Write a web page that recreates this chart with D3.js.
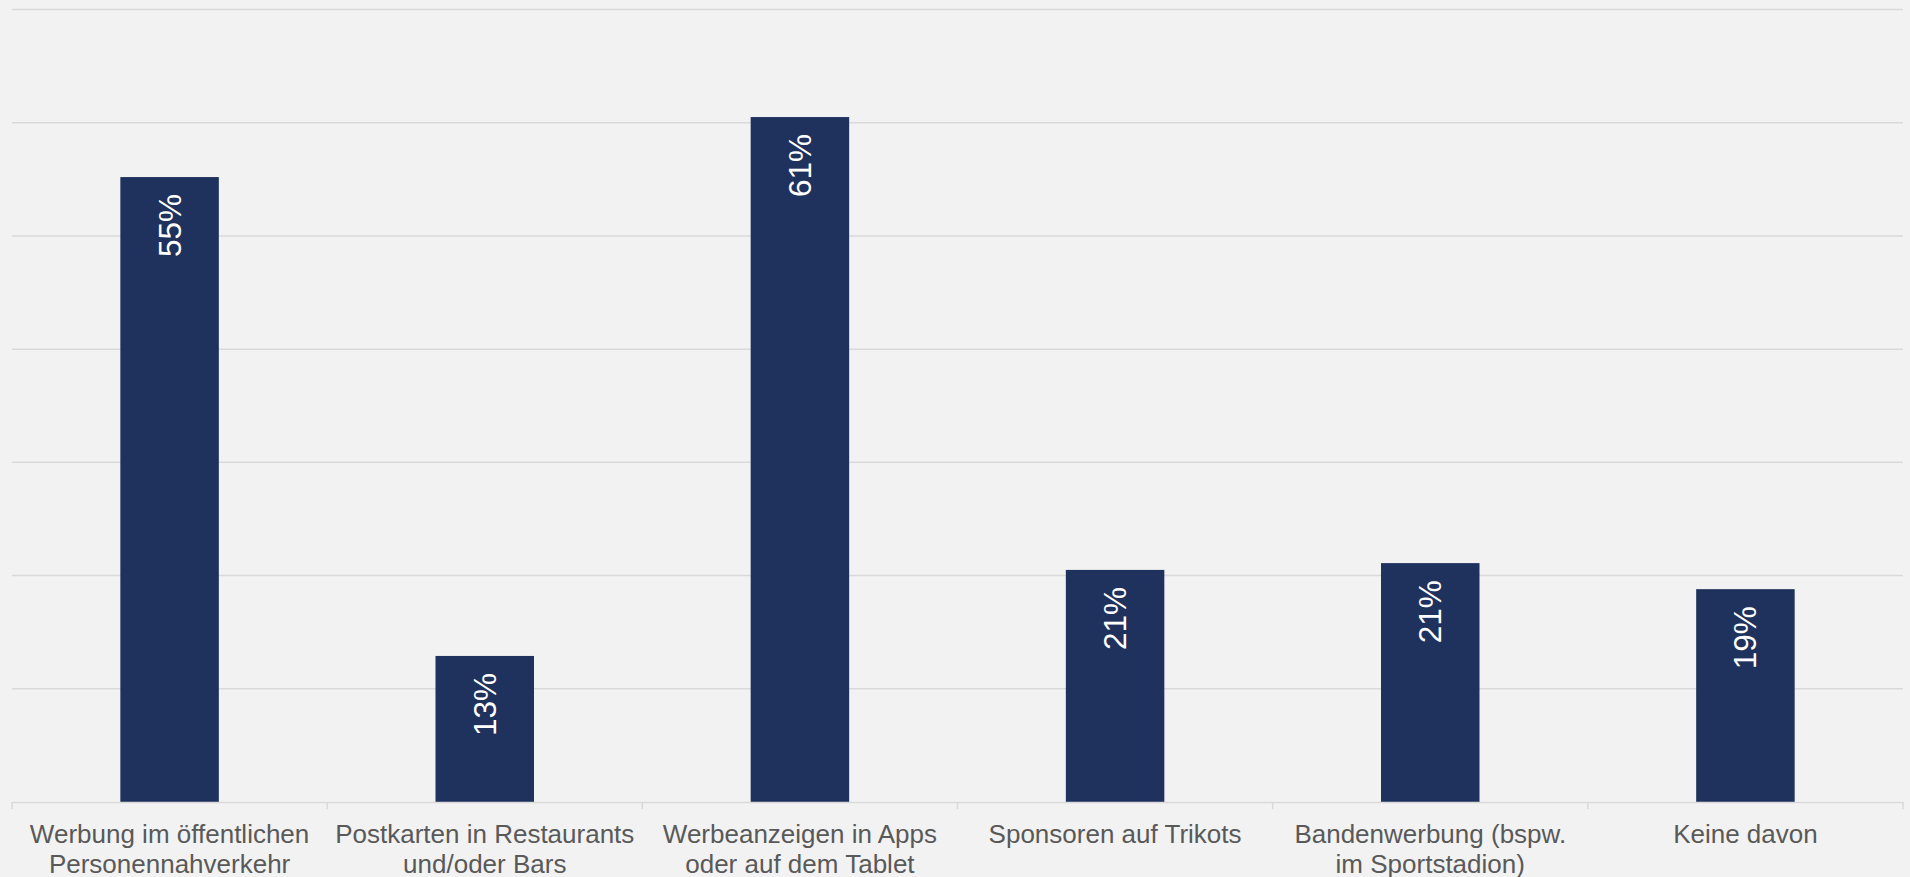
<!DOCTYPE html>
<html><head><meta charset="utf-8">
<script src="https://cdn.jsdelivr.net/npm/d3@7"></script>
<style>
html,body{margin:0;padding:0;background:#f2f2f2;}
svg{display:block;}
</style></head>
<body>
<svg id="c" width="1910" height="877"></svg>
<script>
const categories = [
  ["Werbung im öffentlichen","Personennahverkehr"],
  ["Postkarten in Restaurants","und/oder Bars"],
  ["Werbeanzeigen in Apps","oder auf dem Tablet"],
  ["Sponsoren auf Trikots"],
  ["Bandenwerbung (bspw.","im Sportstadion)"],
  ["Keine davon"]
];
const values = [55.2, 12.9, 60.5, 20.5, 21.1, 18.8];
const labels = ["55%","13%","61%","21%","21%","19%"];
const yTicks = [0,10,20,30,40,50,60,70];

(function(){
const svg = d3.select("#c");
const W = 1910, H = 877;
svg.append("rect").attr("width",W).attr("height",H).attr("fill","#f2f2f2");
const mLeft = 12, mRight = 1903, mTop = 9.5, mBottom = 802;
const idx = categories.map((d,i)=>i);
const x = d3.scaleBand().domain(idx).range([mLeft,mRight]).paddingInner(0).paddingOuter(0);
const y = d3.scaleLinear().domain([0,70]).range([mBottom,mTop]);
const barW = x.bandwidth()*0.3125;

// gridlines
svg.append("g").selectAll("line").data(yTicks.filter(t=>t>0)).join("line")
  .attr("x1",mLeft).attr("x2",mRight)
  .attr("y1",d=>y(d)).attr("y2",d=>y(d))
  .attr("stroke","#d9d9d9").attr("stroke-width",1.5);

// bars
svg.append("g").selectAll("rect").data(values).join("rect")
  .attr("x",(d,i)=>x(i)+x.bandwidth()/2-barW/2)
  .attr("width",barW)
  .attr("y",d=>y(d))
  .attr("height",d=>mBottom-y(d))
  .attr("fill","#1f315d");

// axis
const xAxis = d3.axisBottom(x).tickSize(0).tickFormat("");
const ag = svg.append("g").attr("transform",`translate(0,${mBottom})`).call(xAxis);
ag.select(".domain").attr("stroke","#d9d9d9").attr("stroke-width",1.5);
// boundary ticks
const bounds = idx.map(i=>x(i)).concat([mRight]);
svg.append("g").selectAll("line").data(bounds).join("line")
  .attr("x1",d=>d).attr("x2",d=>d).attr("y1",mBottom).attr("y2",mBottom+7)
  .attr("stroke","#d9d9d9").attr("stroke-width",1.5);

// category labels
const cl = svg.append("g").selectAll("text").data(categories).join("text")
  .attr("x",(d,i)=>x(i)+x.bandwidth()/2)
  .attr("y",842.7)
  .attr("text-anchor","middle")
  .attr("font-family","Liberation Sans, Arial, sans-serif")
  .attr("font-size",26)
  .attr("fill","#595959");
cl.each(function(d){
  const t = d3.select(this);
  d.forEach((line,j)=>{
    t.append("tspan").attr("x",t.attr("x")).attr("dy",j===0?0:30.6).text(line);
  });
});

// value labels (rotated)
svg.append("g").selectAll("text").data(values).join("text")
  .attr("transform",(d,i)=>`translate(${x(i)+x.bandwidth()/2},${y(d)+17}) rotate(-90)`)
  .attr("text-anchor","end")
  .attr("dominant-baseline","central")
  .attr("font-family","Liberation Sans, Arial, sans-serif")
  .attr("font-size",31.5)
  .attr("fill","#ffffff")
  .text((d,i)=>labels[i]);
})();
</script>
</body></html>
